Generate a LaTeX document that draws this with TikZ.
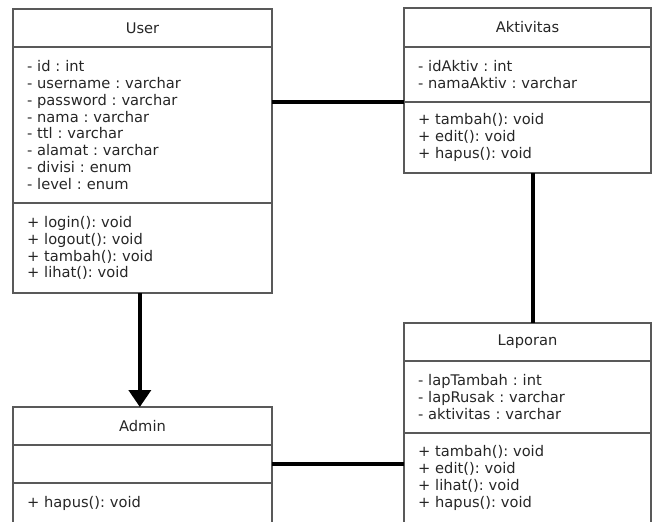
\documentclass[tikz,border=0pt]{standalone}
\usepackage{fontspec}
\setmainfont{DejaVu Sans}
\usetikzlibrary{arrows.meta, positioning}
\frenchspacing

\begin{document}
\begin{tikzpicture}[
  x=0.75pt, y=-0.75pt,
  node distance=0pt,
  part/.style={rectangle, draw=black!65, line width=1pt, outer sep=0pt,
               inner xsep=10.5pt, inner ysep=0pt, text=black!85,
               font=\fontsize{11}{12.6}\selectfont},
  head/.style={part, align=center},
  body/.style={part, align=left},
  wide/.style={text width=173.25pt},
  narrow/.style={text width=164.25pt},
  link/.style={line width=2.8pt, black},
  gen/.style={link, -{Triangle[length=12.75pt, width=16.5pt]}},
]
  \useasboundingbox (0,0) rectangle (652,521);
  \clip (0,0) rectangle (652,521);

  \node[head, wide, anchor=north west, minimum height=28.5pt] (user) at (13,9) {User};
  \node[body, wide, minimum height=117pt, below=of user] (userattr)
    {- id : int\\- username : varchar\\- password : varchar\\- nama : varchar\\- ttl : varchar\\- alamat : varchar\\- divisi : enum\\- level : enum};
  \node[body, wide, minimum height=67.5pt, below=of userattr] (usermeth)
    {+ login(): void\\+ logout(): void\\+ tambah(): void\\+ lihat(): void};

  \node[head, narrow, anchor=north west, minimum height=29.25pt] (aktiv) at (404,8) {Aktivitas};
  \node[body, narrow, minimum height=41.25pt, below=of aktiv] (aktivattr)
    {- idAktiv : int\\- namaAktiv : varchar};
  \node[body, narrow, minimum height=53.25pt, below=of aktivattr] (aktivmeth)
    {+ tambah(): void\\+ edit(): void\\+ hapus(): void};

  \node[head, narrow, anchor=north west, minimum height=28.5pt] (lapor) at (404,323) {Laporan};
  \node[body, narrow, minimum height=54pt, below=of lapor] (laporattr)
    {- lapTambah : int\\- lapRusak : varchar\\- aktivitas : varchar};
  \node[body, narrow, minimum height=67.5pt, below=of laporattr] (lapormeth)
    {+ tambah(): void\\+ edit(): void\\+ lihat(): void\\+ hapus(): void};

  \node[head, wide, anchor=north west, minimum height=28.5pt] (admin) at (13,407) {Admin};
  \node[body, wide, minimum height=28.5pt, below=of admin] (adminattr) {};
  \node[body, wide, minimum height=30pt, below=of adminattr] (adminmeth) {+ hapus(): void};

  \draw[link] (aktivattr.south west) -- (aktivattr.south west -| userattr.east);
  \draw[link] ([xshift=4pt]aktivmeth.south) -- ([xshift=4pt]lapor.north);
  \draw[link] (adminattr.east) -- (adminattr.east -| lapormeth.west);
  \draw[gen] ([xshift=-2pt]usermeth.south) -- ([xshift=-2pt]admin.north);
\end{tikzpicture}
\end{document}
